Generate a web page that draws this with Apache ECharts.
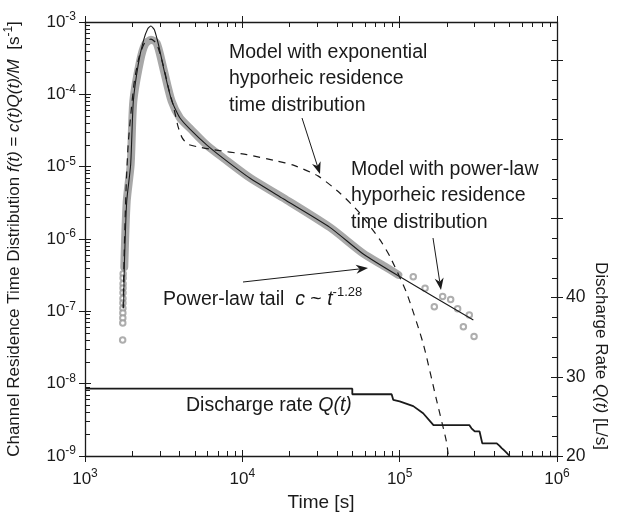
<!DOCTYPE html>
<html><head><meta charset="utf-8">
<script src="https://cdn.jsdelivr.net/npm/echarts@6/dist/echarts.min.js"></script>
<style>html,body{margin:0;padding:0;background:#fff}#c{width:622px;height:515px}</style>
</head><body><div id="c"></div>
<script>
const FONT = '"Liberation Sans", Arial, Helvetica, sans-serif';
const INK = '#1a1a1a';

// Observed data: dense part (drawn as the grey band of overlapping circles)
const bandT = [1777, 1841, 1951, 2028, 2237, 2405, 2625, 2855, 3146, 3556, 4015, 4646, 5930, 7570, 11200, 18200, 36000, 58700, 80000, 98000];
const bandF = [4.1e-7, 3.3e-6, 1.07e-5, 8.0e-5, 2.86e-4, 4.88e-4, 5.7e-4, 5.1e-4, 2.3e-4, 8.0e-5, 4.7e-5, 3.4e-5, 2.0e-5, 1.32e-5, 7.0e-6, 3.7e-6, 1.45e-6, 6.3e-7, 4.2e-7, 3.2e-7];
// Observed data: individual circles (rising limb and late tail)
const obsT = [1748, 1747, 1746, 1745, 1744, 1743, 1742, 1741, 1740, 1739, 1738, 1735,
              122000, 145000, 166000, 187600, 210900, 233600, 254000, 277000, 297000];
const obsF = [3.3e-7, 2.9e-7, 2.4e-7, 2.1e-7, 1.8e-7, 1.5e-7, 1.3e-7, 1.1e-7, 9.5e-8, 8.1e-8, 6.9e-8, 4.0e-8,
              3.0e-7, 2.08e-7, 1.16e-7, 1.6e-7, 1.46e-7, 1.09e-7, 6.1e-8, 8.9e-8, 4.5e-8];
// Model with power-law hyporheic residence time distribution (solid)
const plT = [1760, 1777, 1841, 1951, 2028, 2180, 2350, 2500, 2625, 2760, 2950, 3146, 3556, 4015, 4646, 5930, 7570, 11200, 18200, 36000, 58700, 98000, 294000];
const plF = [1.1e-7, 4.0e-7, 3.3e-6, 1.07e-5, 8.0e-5, 2.6e-4, 5.5e-4, 8.0e-4, 8.8e-4, 7.8e-4, 4.6e-4, 2.4e-4, 8.2e-5, 4.7e-5, 3.3e-5, 2.0e-5, 1.3e-5, 6.9e-6, 3.6e-6, 1.45e-6, 6.2e-7, 3.1e-7, 7.6e-8];
// Model with exponential hyporheic residence time distribution (dashed)
const expT = [1745, 1770, 1800, 1830, 1880, 1950, 2058, 2200, 2400, 2625, 2855, 3146, 3400, 3640, 3900, 4150, 4500, 5200, 6500, 10670, 16500, 21100, 30400, 41800, 56000, 75000, 86800, 111000, 141000, 171000, 198000, 204000];
const expF = [1.1e-7, 5e-7, 2e-6, 6e-6, 2e-5, 5e-5, 1.5e-4, 3.2e-4, 5.2e-4, 5.8e-4, 5.0e-4, 2.5e-4, 1.2e-4, 7e-5, 3.6e-5, 2.5e-5, 2.05e-5, 1.88e-5, 1.72e-5, 1.47e-5, 1.2e-5, 1.05e-5, 7.4e-6, 4.3e-6, 2.26e-6, 9.7e-7, 5.7e-7, 1.77e-7, 3.6e-8, 6.1e-9, 1.6e-9, 1.0e-9];
// Discharge rate Q(t) [L/s]
const qT = [1000, 50000, 50000, 88900, 91000, 100000, 122000, 141000, 164000, 277000, 286000, 300000, 322000, 335000, 414000, 430000, 445000, 462000, 479000, 500000];
const qV = [28.5, 28.5, 27.8, 27.8, 27.1, 26.9, 26.3, 25.4, 23.9, 23.9, 23.5, 23.1, 23.1, 21.6, 21.6, 21.3, 21.0, 20.7, 20.4, 20.0];

// Tick values
const xMajor = [1e3, 1e4, 1e5, 1e6];
const yMajor = [1e-9, 1e-8, 1e-7, 1e-6, 1e-5, 1e-4, 1e-3];
const mult = [2, 3, 4, 5, 6, 7, 8, 9];
const xMinor = [1e3, 1e4, 1e5].flatMap(d => mult.map(m => m * d));
const yMinor = [1e-9, 1e-8, 1e-7, 1e-6, 1e-5, 1e-4].flatMap(d => mult.map(m => m * d));
const qMajor = [20, 30, 40, 50, 60, 70];
const qMinor = [22.5, 25, 27.5, 32.5, 35, 37.5, 42.5, 45, 47.5, 52.5, 55, 57.5, 62.5, 65, 67.5, 72.5];
const qLabels = [20, 30, 40];
const Q_MIN = 20, Q_MAX = 74.8;

const zip = (a, b) => a.map((v, i) => [v, b[i]]);
const expLabel = v => '{b|10}{s|' + Math.round(Math.log10(v)) + '}';
const tickRich = {
  b: { fontSize: 17, fontFamily: FONT, color: INK, lineHeight: 22 },
  s: { fontSize: 12, fontFamily: FONT, color: INK, lineHeight: 10, verticalAlign: 'top' }
};
const off = { axisLine: { show: false, onZero: false }, axisLabel: { show: false }, axisTick: { show: false },
  splitLine: { show: false }, minorTick: { show: false }, minorSplitLine: { show: false } };
const lineStyle = { color: INK, width: 1.3 };
function ax(base, extra) { return Object.assign({}, base, off, extra); }
const xBase = { type: 'log', logBase: 10, min: 1e3, max: 1e6, gridIndex: 0 };
const yBase = { type: 'log', logBase: 10, min: 1e-9, max: 1e-3, gridIndex: 0 };
const qBase = { type: 'value', min: Q_MIN, max: Q_MAX, gridIndex: 0, position: 'right' };
const tick = (vals, inside, len) => ({ show: true, inside: inside, length: len, customValues: vals, lineStyle: { color: INK, width: 1 } });

const xAxes = [
  ax(xBase, { position: 'bottom', axisLine: { show: true, onZero: false, lineStyle },
    axisTick: tick(xMajor, true, 6),
    axisLabel: { show: true, customValues: xMajor, formatter: expLabel, rich: tickRich, margin: 12 },
    name: 'Time [s]', nameLocation: 'middle', nameGap: 37,
    nameTextStyle: { fontSize: 19, fontFamily: FONT, color: INK } }),
  ax(xBase, { position: 'bottom', axisTick: tick(xMajor, false, 6) }),
  ax(xBase, { position: 'bottom', axisTick: tick(xMinor, true, 5) }),
  ax(xBase, { position: 'top', axisLine: { show: true, onZero: false, lineStyle }, axisTick: tick(xMajor, true, 6) }),
  ax(xBase, { position: 'top', axisTick: tick(xMajor, false, 6) }),
  ax(xBase, { position: 'top', axisTick: tick(xMinor, true, 5) })
];
const yAxes = [
  ax(yBase, { position: 'left', axisLine: { show: true, onZero: false, lineStyle },
    axisTick: tick(yMajor, true, 6),
    axisLabel: { show: true, customValues: yMajor, formatter: expLabel, rich: tickRich, margin: 9 },
    name: 'Channel Residence Time Distribution {i|f}{i|(t)} = {i|c(t)Q(t)/M}  [s{sup|-1}]',
    nameLocation: 'middle', nameGap: 60,
    nameTextStyle: { fontSize: 17, fontFamily: FONT, color: INK, lineHeight: 22,
      rich: { i: { fontSize: 17, fontFamily: FONT, fontStyle: 'italic', color: INK, lineHeight: 22 },
              sup: { fontSize: 12, fontFamily: FONT, color: INK, lineHeight: 8, verticalAlign: 'top' } } } }),
  ax(yBase, { position: 'left', axisTick: tick(yMajor, false, 6) }),
  ax(yBase, { position: 'left', axisTick: tick(yMinor, true, 5) }),
  ax(qBase, { axisLine: { show: true, onZero: false, lineStyle },
    axisTick: tick(qMajor, true, 6),
    axisLabel: { show: true, customValues: qLabels, margin: 9, fontSize: 17.5, fontFamily: FONT, color: INK } }),
  ax(qBase, { axisTick: tick(qMajor, false, 6) }),
  ax(qBase, { axisTick: tick(qMinor, true, 5) })
];

function arrow(x1, y1, x2, y2) {
  const a = Math.atan2(y2 - y1, x2 - x1), L = 12, W = 4.5;
  const bx = x2 - L * Math.cos(a), by = y2 - L * Math.sin(a);
  const nx = -Math.sin(a), ny = Math.cos(a);
  const mx = x2 - 0.7 * L * Math.cos(a), my = y2 - 0.7 * L * Math.sin(a);
  return [
    { type: 'line', shape: { x1, y1, x2: mx, y2: my }, style: { stroke: INK, lineWidth: 1 }, z: 100 },
    { type: 'polygon', shape: { points: [[x2, y2], [bx + nx * W, by + ny * W], [mx, my], [bx - nx * W, by - ny * W]] },
      style: { fill: INK }, z: 100 }
  ];
}
const AFS = 19.5;
const txtRich = {
  i: { fontSize: AFS, fontFamily: FONT, fontStyle: 'italic', fill: INK, lineHeight: 26.5 },
  sup: { fontSize: 13, fontFamily: FONT, fill: INK, lineHeight: 6, verticalAlign: 'top' }
};
function label(x, y, text) {
  return { type: 'text', x, y, z: 100, style: { text, fontSize: AFS, fontFamily: FONT, fill: INK,
    lineHeight: 26.5, rich: txtRich } };
}

const chart = echarts.init(document.getElementById('c'), null, { renderer: 'canvas' });
chart.setOption({
  animation: false,
  backgroundColor: '#fff',
  grid: { left: 85, right: 65, top: 22, bottom: 59, containLabel: false, outerBoundsMode: 'none' },
  xAxis: xAxes,
  yAxis: yAxes,
  series: [
    { type: 'line', name: 'band', data: zip(bandT, bandF), xAxisIndex: 0, yAxisIndex: 0, showSymbol: false,
      smooth: 0.25, lineStyle: { color: '#a8a8a8', width: 8, cap: 'round', join: 'round' }, z: 2 },
    { type: 'scatter', name: 'obs', data: zip(obsT, obsF), xAxisIndex: 0, yAxisIndex: 0,
      symbol: 'emptyCircle', symbolSize: 5.5, itemStyle: { color: '#9a9a9a', borderWidth: 1.1 }, z: 3 },
    { type: 'line', name: 'exp', data: zip(expT, expF), xAxisIndex: 0, yAxisIndex: 0, showSymbol: false,
      smooth: 0.2, lineStyle: { color: INK, width: 1.2, type: [7, 6] }, z: 4 },
    { type: 'line', name: 'pl', data: zip(plT, plF), xAxisIndex: 0, yAxisIndex: 0, showSymbol: false,
      smooth: 0.2, lineStyle: { color: INK, width: 1.1 }, z: 5 },
    { type: 'line', name: 'Q', data: zip(qT, qV), xAxisIndex: 0, yAxisIndex: 3, showSymbol: false,
      lineStyle: { color: INK, width: 1.8 }, z: 5 }
  ],
  graphic: [
    label(229, 39, 'Model with exponential\nhyporheic residence\ntime distribution'),
    label(351, 156, 'Model with power-law\nhyporheic residence\ntime distribution'),
    label(163, 286, 'Power-law tail  {i|c} ~ {i|t}{sup|-1.28}'),
    label(186, 392, 'Discharge rate {i|Q(t)}'),
    { type: 'text', x: 601, y: 356, rotation: -Math.PI / 2, z: 100,
      style: { text: 'Discharge Rate {i|Q(t)} [L/s]', fontSize: 17, fontFamily: FONT, fill: INK,
        align: 'center', verticalAlign: 'middle', lineHeight: 24,
        rich: { i: { fontSize: 17, fontFamily: FONT, fontStyle: 'italic', fill: INK, lineHeight: 24 } } } },
    ...arrow(302, 118, 320, 174),
    ...arrow(433, 238, 441, 290),
    ...arrow(243, 282, 368, 268)
  ]
});
</script></body></html>
